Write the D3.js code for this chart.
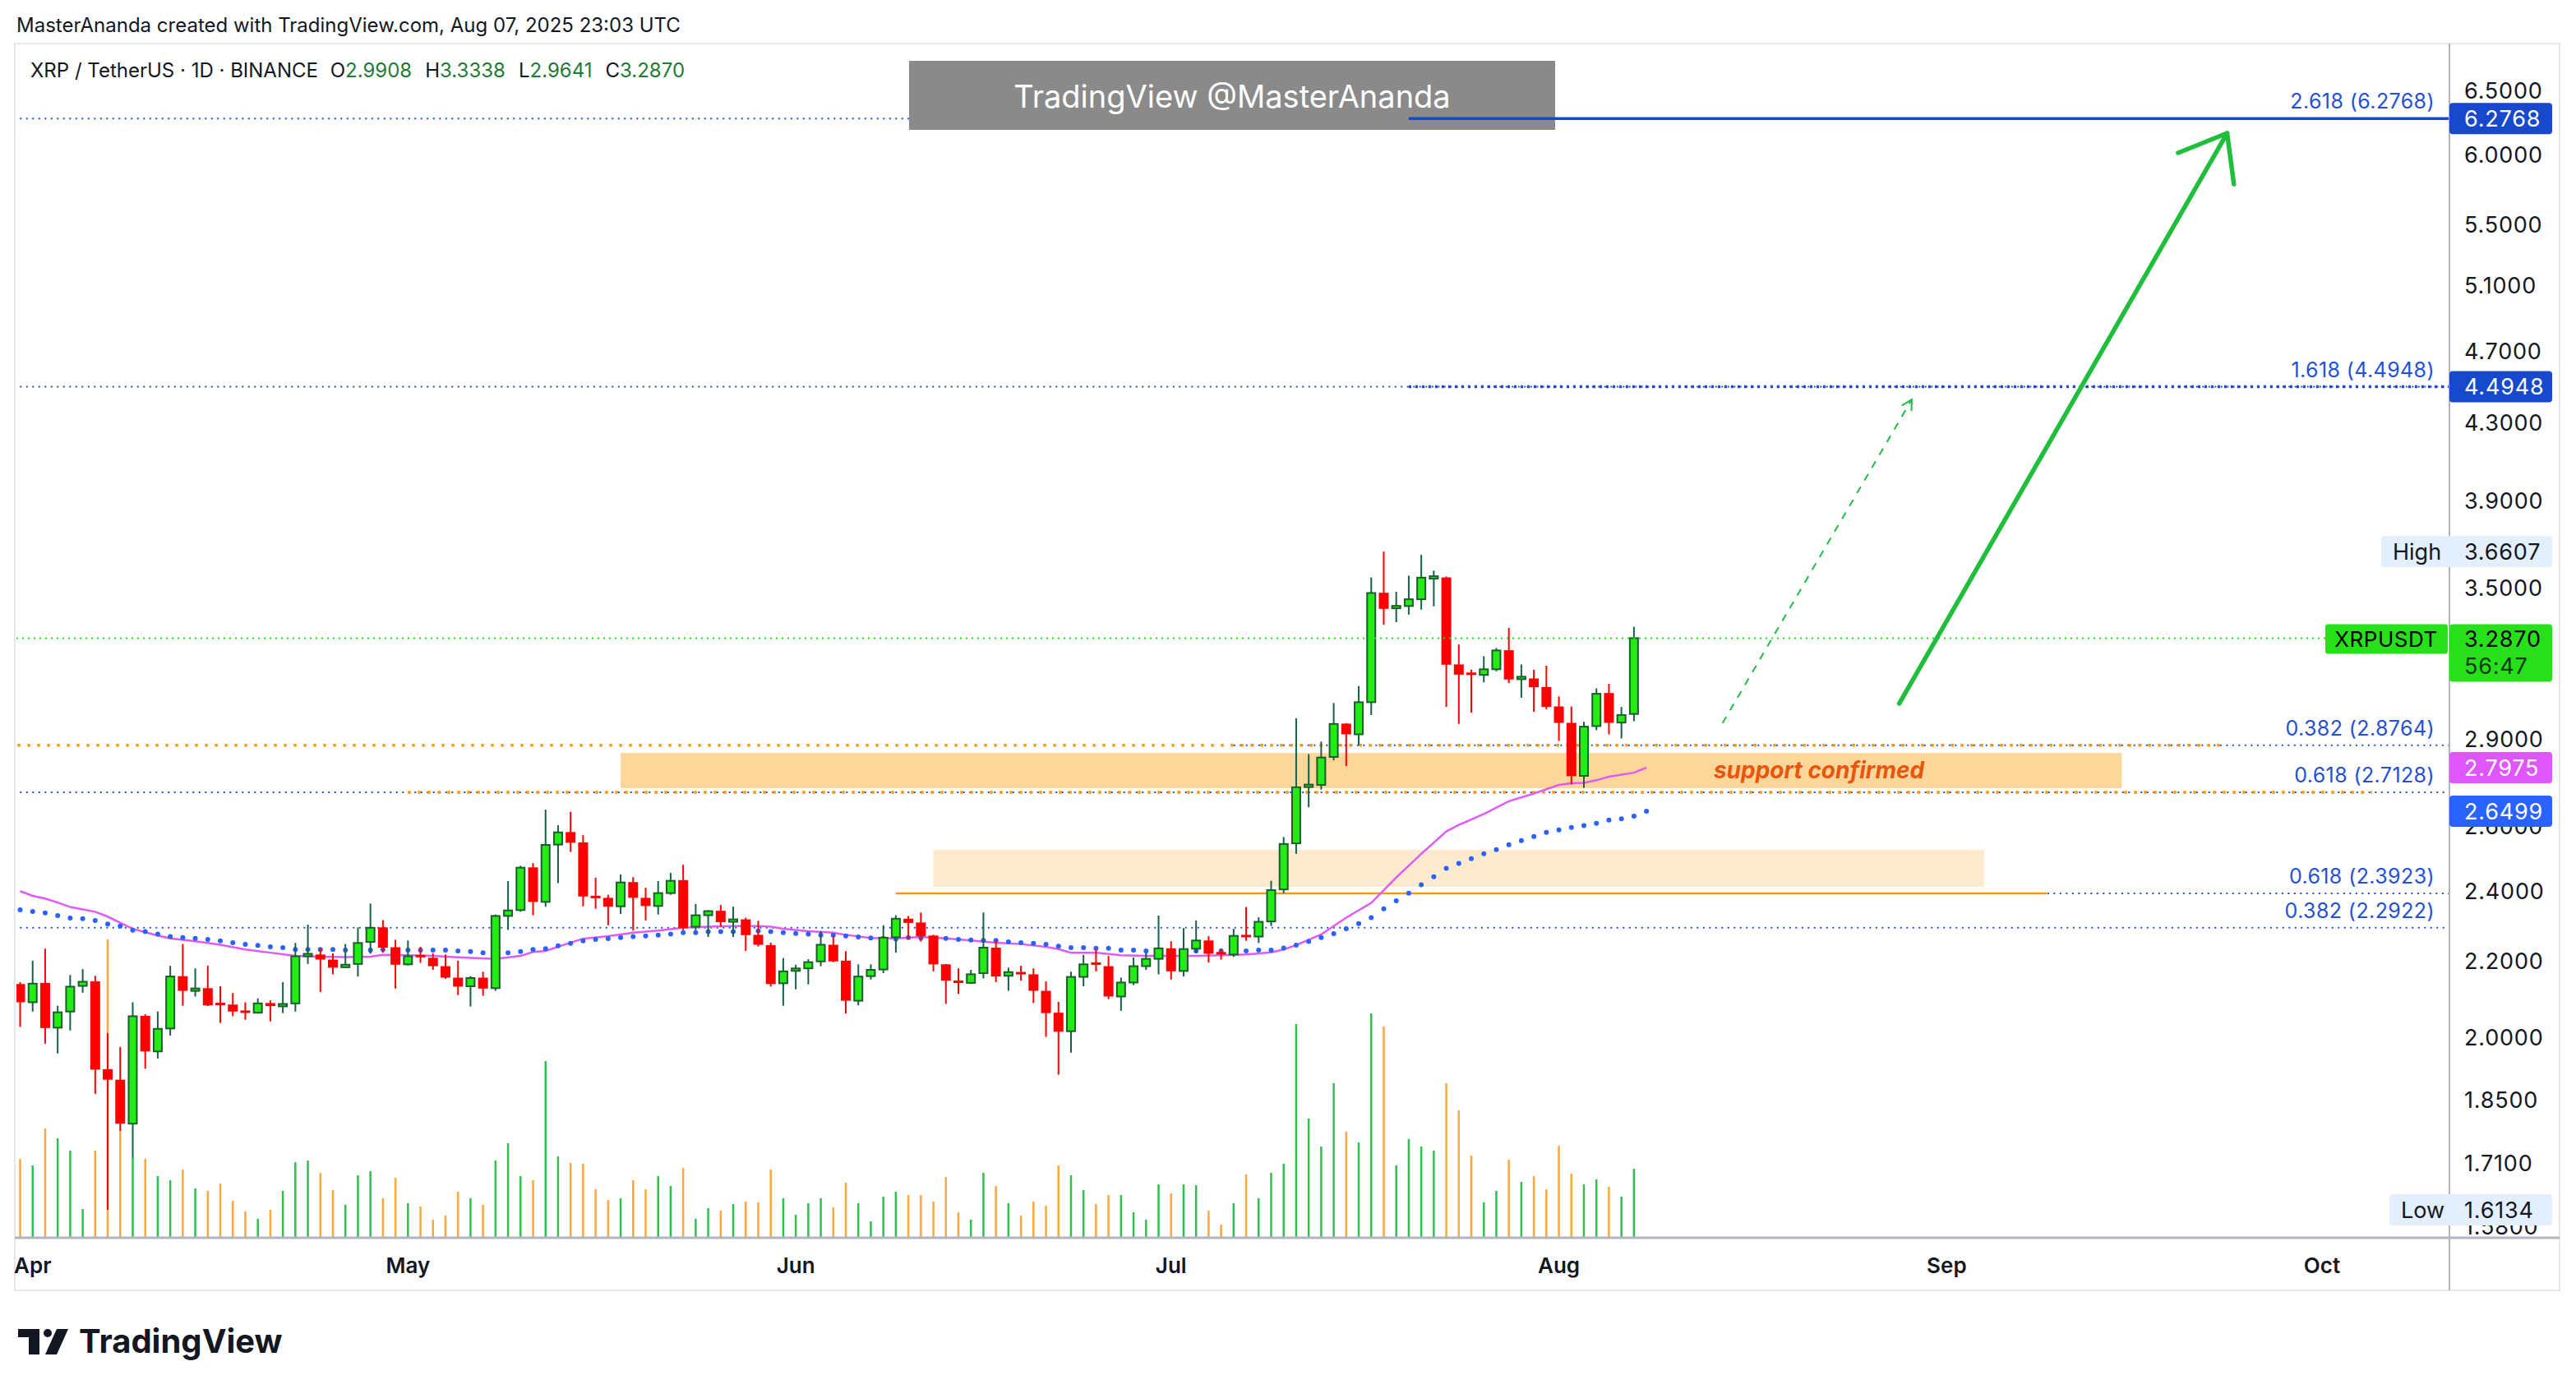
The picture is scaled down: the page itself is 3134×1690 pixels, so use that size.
<!DOCTYPE html>
<html><head><meta charset="utf-8">
<script src="https://cdn.jsdelivr.net/npm/d3@7"></script>
<style>
html,body{margin:0;padding:0;background:#fff;}
svg{display:block;font-family:Inter,"Noto Sans",sans-serif;}
</style></head><body>
<svg id="chart" width="3134" height="1690"></svg>
<script>
// ---------------- DATA ----------------
const firstDate = "2025-03-31"; // daily candles, one per day
const opens = [2.137,2.089,2.140,2.024,2.065,2.132,2.144,1.922,1.897,1.796,
2.054,1.965,2.022,2.158,2.120,2.126,2.086,2.083,2.067,2.062,
2.087,2.079,2.086,2.214,2.217,2.203,2.182,2.191,2.252,2.293,
2.237,2.190,2.215,2.208,2.185,2.154,2.131,2.154,2.126,2.326,
2.343,2.471,2.367,2.542,2.582,2.549,2.383,2.379,2.354,2.426,
2.379,2.355,2.393,2.432,2.295,2.328,2.341,2.311,2.316,2.272,
2.243,2.139,2.174,2.179,2.198,2.244,2.200,2.093,2.158,2.176,
2.265,2.318,2.307,2.270,2.190,2.145,2.140,2.166,2.236,2.159,
2.169,2.163,2.119,2.062,2.015,2.156,2.194,2.185,2.104,2.141,
2.185,2.205,2.234,2.172,2.233,2.256,2.222,2.217,2.270,2.267,
2.310,2.404,2.546,2.733,2.738,2.835,2.955,2.916,3.035,3.478,
3.414,3.421,3.450,3.543,3.545,3.181,3.147,3.140,3.162,3.238,
3.126,3.126,3.093,3.019,2.958,2.769,2.946,3.070,2.959,2.9908];
const highs = [2.142,2.200,2.233,2.080,2.161,2.177,2.159,2.010,1.976,2.089,
2.058,2.065,2.186,2.246,2.179,2.186,2.131,2.113,2.089,2.099,
2.094,2.142,2.249,2.301,2.234,2.220,2.246,2.293,2.362,2.314,
2.258,2.256,2.238,2.220,2.217,2.200,2.158,2.170,2.330,2.429,
2.476,2.484,2.655,2.604,2.648,2.572,2.439,2.388,2.449,2.441,
2.409,2.429,2.454,2.479,2.361,2.343,2.358,2.353,2.321,2.312,
2.250,2.207,2.189,2.204,2.282,2.268,2.226,2.190,2.190,2.299,
2.328,2.326,2.336,2.272,2.191,2.179,2.175,2.336,2.256,2.181,
2.186,2.179,2.144,2.090,2.170,2.216,2.229,2.213,2.154,2.209,
2.222,2.327,2.254,2.291,2.313,2.268,2.233,2.289,2.352,2.322,
2.430,2.566,2.975,2.845,2.890,3.032,2.957,3.097,3.545,3.6607,
3.482,3.553,3.646,3.575,3.549,3.261,3.160,3.214,3.247,3.329,
3.181,3.160,3.176,3.057,3.019,2.962,3.088,3.105,3.017,3.3338];
const lows = [2.026,2.065,1.984,1.960,2.017,2.114,1.864,1.6134,1.779,1.722,
1.923,1.948,2.004,2.080,2.104,2.079,2.036,2.053,2.044,2.060,
2.040,2.061,2.065,2.191,2.116,2.163,2.181,2.157,2.219,2.222,
2.125,2.187,2.194,2.175,2.151,2.108,2.078,2.106,2.119,2.286,
2.338,2.328,2.353,2.423,2.519,2.354,2.347,2.299,2.332,2.284,
2.313,2.330,2.388,2.285,2.285,2.266,2.295,2.266,2.227,2.239,
2.130,2.080,2.123,2.136,2.185,2.196,2.060,2.081,2.149,2.166,
2.222,2.259,2.253,2.171,2.085,2.111,2.138,2.152,2.142,2.119,
2.146,2.087,2.001,1.909,1.962,2.131,2.171,2.097,2.067,2.134,
2.175,2.163,2.149,2.157,2.220,2.195,2.203,2.210,2.255,2.249,
2.297,2.393,2.513,2.663,2.722,2.823,2.803,2.877,2.987,3.342,
3.353,3.385,3.406,3.420,3.017,2.954,2.996,3.111,3.154,3.108,
3.052,2.999,3.009,2.892,2.740,2.728,2.931,2.916,2.901,2.9641];
const closes = [2.089,2.138,2.023,2.063,2.130,2.143,1.921,1.897,1.796,2.053,
1.965,2.021,2.157,2.119,2.124,2.081,2.083,2.065,2.062,2.086,
2.079,2.084,2.212,2.217,2.203,2.181,2.189,2.249,2.292,2.236,
2.189,2.212,2.210,2.185,2.154,2.130,2.153,2.125,2.326,2.342,
2.470,2.367,2.541,2.581,2.548,2.383,2.380,2.353,2.425,2.379,
2.355,2.393,2.430,2.291,2.328,2.340,2.308,2.314,2.271,2.244,
2.137,2.171,2.177,2.196,2.244,2.198,2.093,2.157,2.175,2.264,
2.318,2.306,2.268,2.190,2.146,2.141,2.163,2.236,2.157,2.169,
2.163,2.119,2.061,2.014,2.156,2.190,2.190,2.104,2.141,2.185,
2.205,2.234,2.171,2.232,2.256,2.219,2.219,2.269,2.267,2.309,
2.402,2.544,2.730,2.737,2.833,2.954,2.916,3.035,3.477,3.409,
3.419,3.450,3.544,3.547,3.180,3.141,3.142,3.162,3.237,3.122,
3.130,3.092,3.017,2.958,2.768,2.944,3.067,2.958,2.987,3.2870];
const volumes = [95,87,132,120,105,34,105,362,128,97,
95,74,69,82,59,56,65,44,31,22,
33,56,91,93,78,57,39,75,80,47,
72,41,37,21,26,55,47,39,93,114,
74,69,214,98,90,89,58,45,47,69,
58,74,62,84,22,35,32,40,43,42,
82,47,27,41,47,36,66,41,19,49,
55,51,51,43,73,30,21,78,62,41,
26,43,38,87,75,57,40,51,51,30,
21,64,53,64,63,32,15,41,76,47,
78,89,259,144,110,187,128,115,272,256,
87,119,110,105,187,154,99,42,56,94,
67,74,58,111,77,64,70,61,49,83];
// blue dotted moving average (one value per day, Mar 31 .. Aug 8)
const blueMA = [2.344,2.339,2.335,2.327,2.320,2.318,2.313,2.303,2.297,2.285,
2.281,2.274,2.267,2.264,2.262,2.259,2.255,2.250,2.245,2.242,
2.238,2.236,2.231,2.231,2.231,2.231,2.229,2.229,2.229,2.231,
2.230,2.229,2.229,2.229,2.229,2.227,2.225,2.222,2.222,2.222,
2.225,2.231,2.233,2.241,2.248,2.255,2.259,2.261,2.264,2.267,
2.269,2.271,2.274,2.278,2.278,2.281,2.281,2.281,2.281,2.283,
2.281,2.278,2.276,2.274,2.271,2.271,2.269,2.266,2.263,2.262,
2.260,2.264,2.263,2.262,2.262,2.259,2.257,2.256,2.256,2.252,
2.250,2.248,2.245,2.240,2.236,2.236,2.234,2.234,2.229,2.229,
2.227,2.227,2.227,2.227,2.227,2.227,2.227,2.227,2.227,2.229,
2.229,2.235,2.243,2.253,2.264,2.275,2.289,2.304,2.321,2.347,
2.370,2.393,2.418,2.442,2.468,2.483,2.498,2.513,2.526,2.542,
2.555,2.568,2.581,2.589,2.597,2.603,2.610,2.621,2.625,2.634,
2.6499];
// magenta moving average, sampled points
const pinkDates = ["2025-03-31","2025-04-01","2025-04-02","2025-04-03","2025-04-04","2025-04-06","2025-04-07","2025-04-09","2025-04-11","2025-04-12","2025-04-14","2025-04-16","2025-04-18","2025-04-20","2025-04-22","2025-04-24","2025-04-26","2025-04-28","2025-04-29","2025-05-01","2025-05-03","2025-05-05","2025-05-08","2025-05-10","2025-05-11","2025-05-12","2025-05-14","2025-05-15","2025-05-17","2025-05-19","2025-05-21","2025-05-23","2025-05-25","2025-05-27","2025-05-29","2025-05-30","2025-05-31","2025-06-02","2025-06-04","2025-06-05","2025-06-07","2025-06-09","2025-06-11","2025-06-13","2025-06-15","2025-06-17","2025-06-19","2025-06-21","2025-06-22","2025-06-23","2025-06-25","2025-06-27","2025-06-29","2025-07-01","2025-07-03","2025-07-05","2025-07-07","2025-07-09","2025-07-10","2025-07-11","2025-07-13","2025-07-15","2025-07-17","2025-07-19","2025-07-21","2025-07-23","2025-07-24","2025-07-26","2025-07-28","2025-07-30","2025-08-01","2025-08-02","2025-08-03","2025-08-04","2025-08-05","2025-08-07","2025-08-08"];
const pinkValues = [2.399,2.385,2.377,2.365,2.352,2.338,2.324,2.289,2.270,2.262,2.254,2.244,2.231,2.222,2.213,2.211,2.210,2.211,2.216,2.215,2.213,2.209,2.205,2.213,2.224,2.227,2.250,2.261,2.268,2.278,2.284,2.292,2.295,2.297,2.297,2.295,2.289,2.282,2.278,2.272,2.263,2.262,2.266,2.262,2.256,2.250,2.246,2.238,2.232,2.222,2.222,2.215,2.213,2.213,2.213,2.215,2.217,2.223,2.231,2.243,2.273,2.321,2.364,2.440,2.513,2.584,2.605,2.641,2.683,2.709,2.738,2.744,2.745,2.754,2.766,2.780,2.7975];
// price axis ticks (3.2000 sits fully behind the last-price label, so it is not listed)
const priceTicks = [6.5,6.0,5.5,5.1,4.7,4.3,3.9,3.5,2.9,2.6,2.4,2.2,2.0,1.85,1.71,1.58];
const monthTicks = ["2025-04-01","2025-05-01","2025-06-01","2025-07-01","2025-08-01","2025-09-01","2025-10-01"];
const monthLabels = ["Apr","May","Jun","Jul","Aug","Sep","Oct"];
// fibonacci levels
const fibRatios = ["2.618","1.618","0.382","0.618","0.618","0.382"];
const fibValues = [6.2768,4.4948,2.8764,2.7128,2.3923,2.2922];
const fibStarts = ["2025-03-30","2025-03-30","2025-07-06","2025-03-30","2025-07-06","2025-03-30"];
// drawings
const orangeDotValues = [2.8764,2.7128];
const orangeDotStarts = ["2025-03-30","2025-05-01"];
const orangeDotEnds = ["2025-09-23","2025-10-05"];
const zoneLow = [2.727,2.412], zoneHigh = [2.849,2.526];
const zoneStarts = ["2025-05-18","2025-06-12"], zoneEnds = ["2025-09-15","2025-09-04"];
const targetStart = "2025-07-20";
const arrowDays = [150.2,176.4], arrowPrices = [3.03,6.163];
const arrowWingDays = [172.5,176.4,176.95], arrowWingPrices = [6.014,6.163,5.784];
const dashDays = [136.1,151.2], dashPrices = [2.957,4.424];
const lastPrice = 3.2870, highValue = 3.6607, lowValue = 1.6134;

// ---------------- SCALES ----------------
const W = 3134, H = 1690;
const PL = 20, PR = 2980, PT = 54, PB = 1506;
const parse = d3.utcParse("%Y-%m-%d");
const start = parse(firstDate);
const dayAt = d => d3.utcHour.offset(start, Math.round(d*24));
const x = d3.scaleUtc().domain([start, d3.utcDay.offset(start,194)]).range([24.5, 24.5+194*15.22]);
const y = d3.scaleLog().domain([1.55816, 6.8834]).range([PB, PT]);
const yv = d3.scaleLinear().domain([0, 400]).range([1505, 1105]);

const svg = d3.select("#chart");
const defs = svg.append("defs");
defs.append("clipPath").attr("id","plotClip").append("rect").attr("x",PL).attr("y",PT).attr("width",PR-PL).attr("height",PB-PT);

// background + frame
svg.append("rect").attr("width",W).attr("height",H).attr("fill","#fff");
svg.append("rect").attr("x",18).attr("y",53).attr("width",3096).attr("height",1517).attr("fill","#fff").attr("stroke","#e6e8ee").attr("stroke-width",2);

// header
svg.append("text").attr("x",20).attr("y",39).attr("font-size",24).attr("fill","#131722").text("MasterAnanda created with TradingView.com, Aug 07, 2025 23:03 UTC");
const hdr = svg.append("text").attr("x",37).attr("y",94).attr("font-size",24).attr("fill","#131722");
hdr.append("tspan").text("XRP / TetherUS · 1D · BINANCE  ");
const ohlcLab = ["O","H","L","C"], ohlcVal = [opens.at(-1), highs.at(-1), lows.at(-1), closes.at(-1)];
ohlcLab.forEach((l,i)=>{
  hdr.append("tspan").attr("fill","#131722").attr("dx", i? 16:8).text(l);
  hdr.append("tspan").attr("fill","#1e7b35").text(ohlcVal[i].toFixed(4));
});

const plot = svg.append("g").attr("clip-path","url(#plotClip)");

// volume
const candles = opens.map((o,i)=>({date:d3.utcDay.offset(start,i), o, h:highs[i], l:lows[i], c:closes[i], v:volumes[i]}));
plot.append("g").selectAll("rect").data(candles).join("rect")
  .attr("x",d=>x(d.date)-1.25).attr("width",2.5)
  .attr("y",d=>yv(d.v)).attr("height",d=>yv(0)-yv(d.v))
  .attr("fill",d=>d.c>=d.o?"#2cc24c":"#f9a93d");

// zones
zoneLow.forEach((lo,i)=>{
  plot.append("rect").attr("x",x(parse(zoneStarts[i]))).attr("width",x(parse(zoneEnds[i]))-x(parse(zoneStarts[i])))
   .attr("y",y(zoneHigh[i])).attr("height",y(lo)-y(zoneHigh[i]))
   .attr("fill", i===0?"#fdd69a":"#feeacf");
});

// fib lines (blue dotted)
fibValues.forEach((v,i)=>{
  plot.append("line").attr("x1",x(parse(fibStarts[i]))).attr("x2",PR).attr("y1",y(v)).attr("y2",y(v))
    .attr("stroke","#1e4fd2").attr("stroke-width",2).attr("stroke-dasharray","2 5.5");
});
// orange dotted lines
orangeDotValues.forEach((v,i)=>{
  plot.append("line").attr("x1",x(parse(orangeDotStarts[i]))).attr("x2",x(parse(orangeDotEnds[i]))).attr("y1",y(v)).attr("y2",y(v))
    .attr("stroke","#ff9800").attr("stroke-width",3.5).attr("stroke-dasharray","3.5 8.5");
});
// orange solid line at 2.3923
plot.append("line").attr("x1",x(parse("2025-06-09"))).attr("x2",x(parse("2025-09-09"))).attr("y1",y(fibValues[4])).attr("y2",y(fibValues[4]))
  .attr("stroke","#ff9800").attr("stroke-width",2.5);
// target line 4.4948 (thick dotted)
plot.append("line").attr("x1",x(parse(targetStart))).attr("x2",PR).attr("y1",y(fibValues[1])).attr("y2",y(fibValues[1]))
  .attr("stroke","#1a48cc").attr("stroke-width",3.5).attr("stroke-dasharray","3 5");

// magenta MA
plot.append("path").datum(pinkDates.map((d,i)=>[parse(d),pinkValues[i]]))
  .attr("d", d3.line().x(d=>x(d[0])).y(d=>y(d[1])))
  .attr("fill","none").attr("stroke","#e05af6").attr("stroke-width",2.5);
// blue MA dots
plot.append("g").selectAll("circle").data(blueMA).join("circle")
  .attr("cx",(d,i)=>x(d3.utcDay.offset(start,i))).attr("cy",d=>y(d)).attr("r",3).attr("fill","#2962ff");

// candles
const cg = plot.append("g");
candles.forEach(d=>{
  const cx = x(d.date), up = d.c>=d.o;
  cg.append("line").attr("x1",cx).attr("x2",cx).attr("y1",y(d.h)).attr("y2",y(d.l))
    .attr("stroke", up?"#15614a":"#ff0000").attr("stroke-width",2);
  const top = y(Math.max(d.o,d.c)), bot = y(Math.min(d.o,d.c));
  const hh = Math.max(bot-top,3), off = bot-top<3 ? (3-(bot-top))/2 : 0;
  if(up){
    cg.append("rect").attr("x",cx-5).attr("width",10).attr("y",top-off).attr("height",hh)
      .attr("fill","#22ec13").attr("stroke","#1d5c2e").attr("stroke-width",2);
  } else {
    cg.append("rect").attr("x",cx-6).attr("width",12).attr("y",top-off).attr("height",hh)
      .attr("fill","#ff0000");
  }
});

// last price dotted line
plot.append("line").attr("x1",PL).attr("x2",PR).attr("y1",y(lastPrice)).attr("y2",y(lastPrice))
  .attr("stroke","#22dd22").attr("stroke-width",2).attr("stroke-dasharray","2 5");

// support text
plot.append("text").attr("x",x(dayAt(143.8))).attr("y",y(2.787)).attr("dy","0.35em").attr("text-anchor","middle")
  .attr("font-size",28).attr("font-weight",700).attr("font-style","italic").attr("fill","#e8560e").text("support confirmed");

// arrows
const lineG = d3.line().x(d=>x(dayAt(d[0]))).y(d=>y(d[1]));
plot.append("path").datum(arrowDays.map((d,i)=>[d,arrowPrices[i]])).attr("d",lineG)
  .attr("fill","none").attr("stroke","#1fbf3c").attr("stroke-width",5.5).attr("stroke-linecap","round");
plot.append("path").datum(arrowWingDays.map((d,i)=>[d,arrowWingPrices[i]])).attr("d",lineG)
  .attr("fill","none").attr("stroke","#1fbf3c").attr("stroke-width",5.5).attr("stroke-linecap","round").attr("stroke-linejoin","round");
plot.append("path").datum(dashDays.map((d,i)=>[d,dashPrices[i]])).attr("d",lineG)
  .attr("fill","none").attr("stroke","#22bb44").attr("stroke-width",2).attr("stroke-dasharray","9 9");
{
  const x1=x(dayAt(dashDays[0])), y1=y(dashPrices[0]), x2=x(dayAt(dashDays[1])), y2=y(dashPrices[1]);
  const a = Math.atan2(y2-y1,x2-x1), L=14;
  const p1=[x2-L*Math.cos(a-0.5), y2-L*Math.sin(a-0.5)], p2=[x2-L*Math.cos(a+0.5), y2-L*Math.sin(a+0.5)];
  plot.append("path").attr("d",`M${p1}L${x2},${y2}L${p2}`).attr("fill","none").attr("stroke","#22bb44").attr("stroke-width",2);
}

// watermark box
svg.append("rect").attr("x",1106).attr("y",74).attr("width",786).attr("height",84).attr("fill","#8a8a8a");
svg.append("text").attr("x",1499).attr("y",118).attr("dy","0.35em").attr("text-anchor","middle").attr("font-size",38).attr("fill","#fff").text("TradingView @MasterAnanda");
// solid 6.2768 target line (drawn above box)
svg.append("line").attr("x1",x(parse(targetStart))).attr("x2",PR).attr("y1",y(fibValues[0])).attr("y2",y(fibValues[0]))
  .attr("stroke","#1a48cc").attr("stroke-width",3.5);

// fib labels
fibValues.forEach((v,i)=>{
  svg.append("text").attr("x",2962).attr("y",y(v)-12).attr("text-anchor","end").attr("font-size",25).attr("letter-spacing",0.4)
    .attr("fill","#2450d6").text(`${fibRatios[i]} (${v.toFixed(4)})`);
});

// axes lines
svg.append("line").attr("x1",18).attr("x2",3114).attr("y1",PB).attr("y2",PB).attr("stroke","#b2b5be").attr("stroke-width",3);
svg.append("line").attr("x1",PR).attr("x2",PR).attr("y1",53).attr("y2",1570).attr("stroke","#b2b5be").attr("stroke-width",2);

// time axis
monthTicks.forEach((m,i)=>{
  svg.append("text").attr("x",x(parse(m))).attr("y",1549).attr("text-anchor","middle").attr("font-size",26).attr("font-weight",600)
    .attr("fill","#131722").text(monthLabels[i]);
});

// price axis ticks
const FS = 27, LS = 0.8;
const ax = svg.append("g");
priceTicks.forEach(t=>{
  ax.append("text").attr("x",2998).attr("y",y(t)).attr("dy","0.36em").attr("font-size",FS).attr("letter-spacing",LS).attr("fill","#131722").text(t.toFixed(4));
});

function axisBox(v, fill, color, text, x0=2980){
  const cy = y(v);
  svg.append("rect").attr("x",x0).attr("y",cy-19).attr("width",3105-x0).attr("height",38).attr("rx",4).attr("fill",fill);
  svg.append("text").attr("x",2998).attr("y",cy).attr("dy","0.36em").attr("font-size",FS).attr("letter-spacing",LS).attr("fill",color).text(text ?? v.toFixed(4));
}
axisBox(fibValues[0],"#1848cc","#fff");
axisBox(fibValues[1],"#1848cc","#fff");
axisBox(highValue,"#e3effd","#131722",null,2897);
svg.append("text").attr("x",2911).attr("y",y(highValue)).attr("dy","0.36em").attr("font-size",FS).attr("fill","#131722").text("High");
axisBox(pinkValues.at(-1),"#e056fd","#fff");
axisBox(blueMA.at(-1),"#2962ff","#fff");
axisBox(lowValue,"#e3effd","#131722",null,2907);
svg.append("text").attr("x",2921).attr("y",y(lowValue)).attr("dy","0.36em").attr("font-size",FS).attr("fill","#131722").text("Low");
// last price label
{
  const cy = y(lastPrice);
  svg.append("rect").attr("x",2829).attr("y",cy-17).attr("width",149).attr("height",36).attr("rx",3).attr("fill","#27e01b");
  svg.append("text").attr("x",2903).attr("y",cy+1).attr("dy","0.36em").attr("text-anchor","middle").attr("font-size",26).attr("letter-spacing",0.5).attr("fill","#000").text("XRPUSDT");
  svg.append("rect").attr("x",2980).attr("y",cy-17).attr("width",125).attr("height",70).attr("rx",4).attr("fill","#27e01b");
  svg.append("text").attr("x",2998).attr("y",cy+1).attr("dy","0.36em").attr("font-size",FS).attr("letter-spacing",LS).attr("fill","#000").text(lastPrice.toFixed(4));
  svg.append("text").attr("x",2998).attr("y",cy+34).attr("dy","0.36em").attr("font-size",FS).attr("letter-spacing",LS).attr("fill","#0b3d0b").text("56:47");
}

// footer logo
const logo = svg.append("g").attr("transform","translate(22,1617)").attr("fill","#131722");
logo.append("path").attr("d","M0 0 H26 V31 H13 V10 H0 Z");
logo.append("circle").attr("cx",36).attr("cy",5).attr("r",5);
logo.append("path").attr("d","M47 0 H61 L47 31 H33 Z");
svg.append("text").attr("x",96).attr("y",1646).attr("font-size",40).attr("font-weight",700).attr("fill","#131722").text("TradingView");
</script>
</body></html>
